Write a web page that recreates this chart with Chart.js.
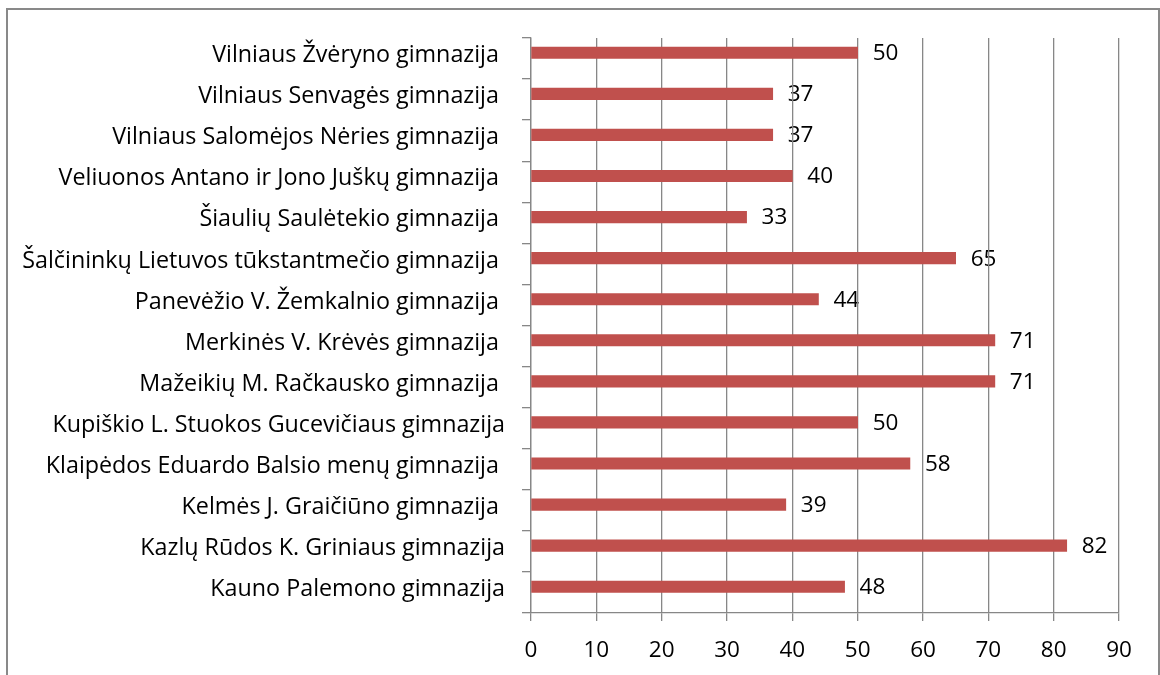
<!DOCTYPE html>
<html>
<head>
<meta charset="utf-8">
<script src="https://cdn.jsdelivr.net/npm/chart.js@4"></script>
<style>
  html, body { margin: 0; padding: 0; background: #fff; }
  #wrap { position: relative; width: 1160px; height: 675px; overflow: hidden; }
  #frame { position: absolute; left: 6px; top: 8px; width: 1150px; height: 700px; border: 2px solid #898989; }
  canvas { position: absolute; left: 0; top: 0; }
</style>
</head>
<body>
<div id="wrap">
  <div id="frame"></div>
  <canvas id="chart" width="1160" height="675"></canvas>
</div>
<script>
// =========================
// DATA
// =========================
const schools = [
  "Vilniaus Žvėryno gimnazija ",
  "Vilniaus Senvagės gimnazija ",
  "Vilniaus Salomėjos Nėries gimnazija ",
  "Veliuonos Antano ir Jono Juškų gimnazija ",
  "Šiaulių Saulėtekio gimnazija ",
  "Šalčininkų Lietuvos tūkstantmečio gimnazija ",
  "Panevėžio V. Žemkalnio gimnazija ",
  "Merkinės V. Krėvės gimnazija ",
  "Mažeikių M. Račkausko gimnazija ",
  "Kupiškio L. Stuokos Gucevičiaus gimnazija",
  "Klaipėdos Eduardo Balsio menų gimnazija ",
  "Kelmės J. Graičiūno gimnazija ",
  "Kazlų Rūdos K. Griniaus gimnazija",
  "Kauno Palemono gimnazija"
];
const scores = [50, 37, 37, 40, 33, 65, 44, 71, 71, 50, 58, 39, 82, 48];
const emptySeries = schools.map(() => null);
const xTicks = [0, 10, 20, 30, 40, 50, 60, 70, 80, 90];

const FONT = "'Open Sans', sans-serif";
const GRID = '#878787';

// value labels next to each bar (drawn before grid so lines cross them)
const valueLabels = {
  id: 'valueLabels',
  beforeDraw(chart) {
    const ctx = chart.ctx;
    const meta = chart.getDatasetMeta(0);
    ctx.save();
    ctx.font = "22.5px " + FONT;
    ctx.fillStyle = '#000';
    ctx.textAlign = 'left';
    ctx.textBaseline = 'middle';
    meta.data.forEach((bar, i) => {
      ctx.fillText(scores[i], bar.x + 15, bar.y + 1);
    });
    ctx.restore();
  }
};

const ctx = document.getElementById('chart').getContext('2d');

new Chart(ctx, {
  type: 'bar',
  data: {
    labels: schools,
    datasets: [
      { data: scores, backgroundColor: '#C0504D', barThickness: 11.5 },
      { data: emptySeries, backgroundColor: '#4F81BD', barThickness: 11.5 }
    ]
  },
  options: {
    indexAxis: 'y',
    responsive: false,
    animation: false,
    layout: { padding: { left: 0, top: 38, right: 41, bottom: 0 } },
    plugins: {
      legend: { display: false },
      tooltip: { enabled: false }
    },
    scales: {
      x: {
        min: 0,
        max: 90,
        afterBuildTicks: (s) => { s.ticks = xTicks.map(v => ({ value: v })); },
        afterFit: (s) => { s.height = 62; },
        grid: { color: GRID, lineWidth: 1.3, tickLength: 8 },
        border: { color: GRID, width: 1.3 },
        ticks: { color: '#000', padding: 16, font: { family: FONT, size: 22.5 } }
      },
      y: {
        afterFit: (s) => { s.width = 531; },
        grid: { color: GRID, lineWidth: 1.3, drawOnChartArea: false, tickLength: 9 },
        border: { color: GRID, width: 1.3 },
        ticks: { color: '#000', padding: 17, labelOffset: -3, font: { family: FONT, size: 23.3 } }
      }
    }
  },
  plugins: [valueLabels]
});
</script>
</body>
</html>
